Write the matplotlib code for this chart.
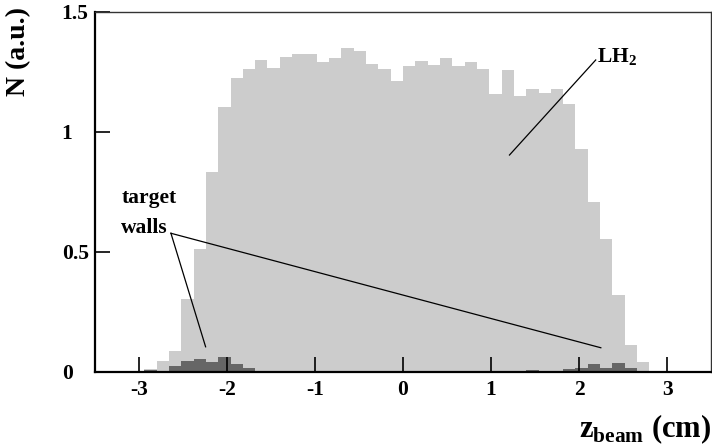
import numpy as np
import matplotlib
matplotlib.use("Agg")
import matplotlib.pyplot as plt

plt.rcParams['font.family'] = ['Liberation Serif', 'DejaVu Serif']
plt.rcParams['font.weight'] = 'bold'
plt.rcParams['mathtext.fontset'] = 'custom'
plt.rcParams['mathtext.rm'] = 'Liberation Serif:bold'
plt.rcParams['mathtext.bf'] = 'Liberation Serif:bold'

# 50 bins between -3.5 and 3.5 cm
edges = np.linspace(-3.5, 3.5, 51)

lh2 = [0, 0, 0, 0, 0.012, 0.045, 0.086, 0.305, 0.511, 0.832,
       1.105, 1.227, 1.262, 1.299, 1.268, 1.314, 1.323, 1.326, 1.292, 1.310,
       1.351, 1.339, 1.283, 1.262, 1.212, 1.275, 1.294, 1.278, 1.308, 1.276,
       1.292, 1.262, 1.157, 1.258, 1.151, 1.180, 1.164, 1.179, 1.115, 0.928,
       0.710, 0.554, 0.319, 0.112, 0.043, 0.0, 0.006, 0, 0, 0]

walls = [0, 0, 0, 0, 0.010, 0.0, 0.027, 0.046, 0.053, 0.043,
         0.062, 0.035, 0.018, 0, 0, 0, 0, 0, 0, 0,
         0, 0, 0, 0, 0, 0, 0, 0, 0, 0,
         0, 0, 0, 0, 0, 0.007, 0, 0.004, 0.012, 0.018,
         0.032, 0.018, 0.036, 0.018, 0.004, 0, 0, 0, 0, 0]

fig = plt.figure(figsize=(7.12, 4.47), dpi=100)
ax = fig.add_axes([0.1334, 0.1678, 0.8652, 0.8054])

w = np.diff(edges)
ax.bar(edges[:-1], lh2, width=w, align='edge', color='#cccccc', linewidth=0)
ax.bar(edges[:-1], walls, width=w, align='edge', color='#666666', linewidth=0)

ax.set_xlim(-3.5, 3.5)
ax.set_ylim(0, 1.5)
ax.set_xticks([-3, -2, -1, 0, 1, 2, 3])
ax.set_xticklabels(['-3', '-2', '-1', '0', '1', '2', '3'])
ax.set_yticks([0, 0.5, 1, 1.5])
ax.set_yticklabels(['0', '0.5', '1', '1.5'], ha='left')
ax.tick_params(direction='in', length=10.5, width=1.2, labelsize=15.5,
               color='black')
ax.tick_params(axis='x', pad=6)
ax.tick_params(axis='y', pad=24)

for s in ['left', 'bottom']:
    ax.spines[s].set_linewidth(1.6)
for s in ['top', 'right']:
    ax.spines[s].set_linewidth(1.0)
    ax.spines[s].set_color('#333333')

# annotations
ax.text(2.21, 1.31, r'LH$_\mathbf{2}$', fontsize=15.5, fontweight='bold',
        ha='left', va='center')
ax.plot([2.19, 1.21], [1.30, 0.904], color='black', lw=0.9)

ax.text(-3.2, 0.725, 'target', fontsize=15.5, fontweight='bold', va='center')
ax.text(-3.2, 0.60, 'walls', fontsize=15.5, fontweight='bold', va='center')
ax.plot([-2.637, -2.243], [0.578, 0.105], color='black', lw=0.9)
ax.plot([-2.637, 2.248], [0.578, 0.101], color='black', lw=0.9)

fig.text(0.999, 0.003, r'z$_\mathbf{beam}$ (cm)', fontsize=22, fontweight='bold',
         ha='right', va='bottom')
fig.text(0.026, 0.985, 'N (a.u.)', fontsize=20, fontweight='bold',
         rotation=90, ha='center', va='top')

fig.savefig('out.png', dpi=100)
